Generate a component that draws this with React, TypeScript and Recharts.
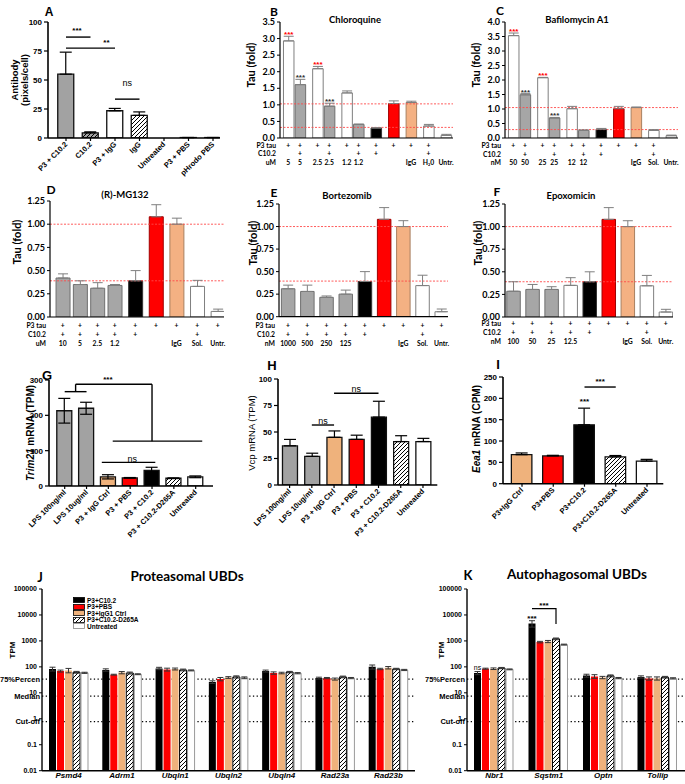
import React from 'react';
import {
  Bar,
  BarChart,
  Cell,
  ErrorBar,
  LabelList,
  Legend,
  ReferenceDot,
  ReferenceLine,
  XAxis,
  YAxis,
} from 'recharts';

// Figure panels A-K. Excel-style panels (B-F) use a Calibri-like face,
// Prism-style panels (A, G-K) use Arial-like bold.
const XL = 'Lato, "Open Sans", sans-serif';
const GP = '"Liberation Sans", Arial, sans-serif';

// ---------- A ----------
const A_LABELS = ['P3 + C10.2', 'C10.2', 'P3 + IgG', 'IgG', 'Untreated', 'P3 + PBS', 'pHrodo PBS'];
const A_VALUES = [55, 4.5, 23.5, 19.5, 0, 0.4, 0.4];
const A_ERR = [19, 0.8, 2, 3, 0, 0, 0];
const A_KIND = ['gray', 'grayHatch', 'white', 'whiteHatch', 'white', 'white', 'white'];
const A_TICKS = [0, 25, 50, 75, 100];
const A_LINES = [[0, 87, 1, 87], [0, 77.5, 2, 77.5], [2, 33.5, 3, 33.5]];
const A_NOTES = [
  { x: 0.45, y: 93, t: '***', bold: true },
  { x: 1.65, y: 82.5, t: '**', bold: true },
  { x: 2.5, y: 48, t: 'ns', bold: false },
];

// ---------- B (Chloroquine) ----------
const B_VALUES = [2.93, 1.61, 2.09, 0.96, 1.36, 0.41, 0.3, 1.04, 1.07, 0.36, 0.08];
const B_ERR = [0.14, 0.16, 0.07, 0.09, 0.06, 0.01, 0.01, 0.08, 0.04, 0.05, 0.03];
const B_KIND = ['white', 'gray', 'white', 'gray', 'white', 'gray', 'black', 'red', 'orange', 'white', 'white'];
const B_GROUPS = [2, 2, 2, 1, 1, 1, 1, 1];
const B_P3 = [1, 1, 1, 1, 1, 1, 1, 1, 1, 1, 0];
const B_C10 = [0, 1, 0, 1, 0, 1, 1, 0, 0, 1, 0];
const B_DOSE = ['5', '5', '2.5', '2.5', '1.2', '1.2', '', '', 'IgG', 'H₂0', 'Untr.'];
const B_STARS = ['***', '***', '***', '***', '', '', '', '', '', '', ''];
const B_STAR_COLOR = ['#ff0000', '#333', '#ff0000', '#333', '', '', '', '', '', '', ''];
const B_REFS = [1.03, 0.32];
const B_TICKS = [0, 0.5, 1, 1.5, 2, 2.5, 3, 3.5];

// ---------- C (Bafilomycin A1) ----------
const C_VALUES = [3.53, 1.49, 2.08, 0.69, 1.01, 0.26, 0.3, 1.01, 1.05, 0.26, 0.08];
const C_ERR = [0.09, 0.04, 0.01, 0.02, 0.08, 0.02, 0.03, 0.08, 0.02, 0.03, 0.02];
const C_DOSE = ['50', '50', '25', '25', '12', '12', '', '', 'IgG', 'Sol.', 'Untr.'];
const C_REFS = [1.05, 0.29];
const C_TICKS = [0, 0.5, 1, 1.5, 2, 2.5, 3, 3.5, 4];

// ---------- D, E, F (proteasome inhibitors) ----------
const PI_TICKS = [0, 0.25, 0.5, 0.75, 1, 1.25];
const PI_P3 = [1, 1, 1, 1, 1, 1, 1, 1, 1];
const PI_C10 = [1, 1, 1, 1, 1, 0, 0, 1, 0];
const D_VALUES = [0.42, 0.35, 0.31, 0.34, 0.39, 1.08, 1.0, 0.33, 0.06];
const D_ERR = [0.045, 0.04, 0.06, 0.01, 0.11, 0.13, 0.065, 0.065, 0.025];
const D_KIND = ['gray', 'gray', 'gray', 'gray', 'black', 'red', 'orange', 'white', 'white'];
const D_GROUPS = [4, 1, 1, 1, 1, 1];
const D_DOSE = ['10', '5', '2.5', '1.2', '', '', 'IgG', 'Sol.', 'Untr.'];
const D_REFS = [1.0, 0.39];
const E_VALUES = [0.31, 0.28, 0.215, 0.25, 0.39, 1.08, 1.0, 0.345, 0.055];
const E_ERR = [0.04, 0.07, 0.015, 0.045, 0.11, 0.13, 0.065, 0.115, 0.03];
const E_KIND = ['gray', 'gray', 'gray', 'gray', 'black', 'red', 'orange', 'white', 'white'];
const E_DOSE = ['1000', '500', '250', '125', '', '', 'IgG', 'Sol.', 'Untr.'];
const E_REFS = [1.0, 0.395];
const F_VALUES = [0.285, 0.305, 0.305, 0.35, 0.39, 1.08, 1.0, 0.345, 0.055];
const F_ERR = [0.105, 0.055, 0.03, 0.085, 0.11, 0.13, 0.065, 0.115, 0.03];
const F_KIND = ['gray', 'gray', 'gray', 'white', 'black', 'red', 'orange', 'white', 'white'];
const F_DOSE = ['100', '50', '25', '12.5', '', '', 'IgG', 'Sol.', 'Untr.'];
const F_REFS = [1.0, 0.39];

// ---------- G, H, I (transcripts) ----------
const GH_LABELS = ['LPS 100ng/ml', 'LPS 10ug/ml', 'P3 + IgG Ctrl', 'P3 + PBS', 'P3 + C10.2', 'P3 + C10.2-D265A', 'Untreated'];
const GH_KIND = ['gray', 'gray', 'orange', 'red', 'black', 'whiteHatch', 'white'];
const G_VALUES = [213, 220, 26, 23, 44, 22, 26];
const G_ERR = [35, 17, 6, 1, 9, 1, 2.5];
const G_TICKS = [0, 100, 200, 300];
const G_LINES = [
  [0, 267, 1, 267], [0.5, 267, 0.5, 288], [0.5, 288, 4, 288], [4, 288, 4, 127],
  [2.2, 127, 6.3, 127], [1.7, 67, 4.15, 67],
];
const G_NOTES = [{ x: 1.98, y: 301, t: '***', bold: true }, { x: 3.1, y: 78, t: 'ns', bold: false }];
const H_VALUES = [37, 27, 45, 43, 64, 41, 41];
const H_ERR = [6, 3, 6, 4, 15, 5.5, 3];
const H_TICKS = [0, 25, 50, 75, 100];
const H_LINES = [[1, 56.6, 2, 56.6], [2, 86.5, 4, 86.5]];
const H_NOTES = [{ x: 1.5, y: 61, t: 'ns', bold: false }, { x: 3, y: 91, t: 'ns', bold: false }];
const I_LABELS = ['P3+IgG Ctrl', 'P3+PBS', 'P3+C10.2', 'P3+C10.2-D265A', 'Untreated'];
const I_KIND = ['orange', 'red', 'black', 'whiteHatch', 'white'];
const I_VALUES = [68, 65, 138, 63, 53];
const I_ERR = [4, 1.5, 39, 3, 4];
const I_TICKS = [0, 50, 100, 150, 200, 250];
const I_LINES = [[2, 226.5, 3, 226.5]];
const I_NOTES = [{ x: 2, y: 194, t: '***', bold: true }, { x: 2.5, y: 241, t: '***', bold: true }];

// ---------- J, K (UBD transcripts, TPM, log) ----------
const UBD_SERIES = ['P3+C10.2', 'P3+PBS', 'P3+IgG1 Ctrl', 'P3+C10.2-D265A', 'Untreated'];
const UBD_KIND = ['black', 'red', 'orange', 'whiteHatch', 'white'];
const UBD_TICKS = [0.01, 0.1, 1, 10, 100, 1000, 10000, 100000];
const UBD_REFS = [34, 7.5, 0.78];
const UBD_REF_LABELS = ['75%Percen', 'Median', 'Cut-off'];
const J_GENES = ['Psmd4', 'Adrm1', 'Ubqln1', 'Ubqln2', 'Ubqln4', 'Rad23a', 'Rad23b'];
const J_C102 = [83, 76, 87, 26, 69, 37, 100];
const J_PBS = [69, 50, 79, 34, 58, 37, 83];
const J_IGG = [73, 60, 83, 39, 58, 34, 93];
const J_D265A = [62, 58, 76, 41, 63, 41, 83];
const J_UNTR = [59, 52, 73, 38, 57, 37, 76];
const J_ERR_C102 = [14, 8, 9, 3, 6, 3, 18];
const J_ERR_PBS = [6, 2, 10, 5, 6, 2, 5];
const J_ERR_IGG = [14, 6, 7, 3, 4, 3, 10];
const J_ERR_D265A = [5, 5, 6, 4, 4, 3, 5];
const J_ERR_UNTR = [3, 2, 3, 3, 3, 2, 4];
const K_GENES = ['Nbr1', 'Sqstm1', 'Optn', 'Tollip'];
const K_C102 = [58, 4700, 46, 41];
const K_PBS = [85, 900, 43, 36];
const K_IGG = [85, 950, 39, 36];
const K_D265A = [90, 1200, 45, 40];
const K_UNTR = [80, 720, 37, 36];
const K_ERR_C102 = [8, 1300, 6, 4];
const K_ERR_PBS = [4, 60, 7, 5];
const K_ERR_IGG = [6, 90, 4, 5];
const K_ERR_D265A = [5, 90, 4, 3];
const K_ERR_UNTR = [3, 30, 2, 2];
const K_NOTES = ['ns', '***', '', ''];
const K_BRACKET = [17400, 4500]; // Sqstm1: C10.2 vs D265A

const KIND_XL: Record<string, { fill: string; stroke: string }> = {
  white: { fill: '#ffffff', stroke: '#7f7f7f' },
  gray: { fill: '#a6a6a6', stroke: '#6f6f6f' },
  black: { fill: '#000000', stroke: '#333333' },
  red: { fill: '#ff0000', stroke: '#a00000' },
  orange: { fill: '#f4b183', stroke: '#a88060' },
};
const KIND_GP: Record<string, { fill: string; stroke: string }> = {
  gray: { fill: '#a2a2a2', stroke: '#111' },
  grayHatch: { fill: 'url(#hatchG)', stroke: '#111' },
  white: { fill: '#ffffff', stroke: '#111' },
  whiteHatch: { fill: 'url(#hatchW)', stroke: '#111' },
  orange: { fill: '#efb27c', stroke: '#111' },
  red: { fill: '#ff0000', stroke: '#111' },
  black: { fill: '#000000', stroke: '#111' },
};

function frame(rect: number[], yw: number, xh: number, mt: number, mr: number) {
  const [l, t, r, b] = rect;
  return {
    style: { position: 'absolute' as const, left: l - yw, top: t - mt },
    width: r - l + yw + mr,
    height: b - t + mt + xh,
    margin: { top: mt, right: mr, left: 0, bottom: 0 },
  };
}

function groupPos(groups: number[], gap: number) {
  const out: number[] = [];
  let p = 0;
  groups.forEach((n, gi) => {
    if (gi) p += gap - 1;
    for (let k = 0; k < n; k++) {
      out.push(p);
      p += 1;
    }
  });
  return out;
}

const findIdx = (pos: number[], v: number) => pos.findIndex((q) => Math.abs(q - v) < 1e-6);
const box = (lp: any) => lp.viewBox && lp.viewBox.width !== undefined ? lp.viewBox : lp;

type ExcelProps = {
  rect: number[]; firstX: number; unit: number; groups: number[]; gap: number; barSize: number;
  values: number[]; err: number[]; kinds: string[]; ticks: number[]; digits: number; refs: number[];
  p3: number[]; c10: number[]; dose: string[]; doseUnit: string; rowsY: number[];
  stars?: string[]; starColor?: string[];
};

function ExcelPanel(p: ExcelProps) {
  const [l, t, r, b] = p.rect;
  const yw = 30;
  const mt = 8;
  const f = frame(p.rect, yw, 36, mt, 4);
  const pos = groupPos(p.groups, p.gap);
  const rows = p.values.map((v, i) => ({ pos: pos[i], v, e: [0, p.err[i]] }));
  const bottom = mt + (b - t);
  const txt = { fontFamily: XL, fontSize: 6.8, fontWeight: 700, fill: '#000' };
  const tick = (tp: any) => {
    const i = findIdx(pos, tp.payload.value);
    const x = tp.x;
    const ys = p.rowsY.map((d) => bottom + d);
    return (
      <g>
        {i === 0 &&
          ['P3 tau', 'C10.2', p.doseUnit].map((s, k) => (
            <text key={s} x={yw - 4} y={ys[k]} dy="0.35em" textAnchor="end" {...txt}>{s}</text>
          ))}
        {p.p3[i] ? <text x={x} y={ys[0]} dy="0.35em" textAnchor="middle" {...txt}>+</text> : null}
        {p.c10[i] ? <text x={x} y={ys[1]} dy="0.35em" textAnchor="middle" {...txt}>+</text> : null}
        {p.dose[i] ? <text x={x} y={ys[2]} dy="0.35em" textAnchor="middle" {...txt}>{p.dose[i]}</text> : null}
      </g>
    );
  };
  const star = (lp: any) => {
    const i = lp.index;
    const s = p.stars ? p.stars[i] : '';
    if (!s) return null;
    const { x, y, width, height } = box(lp);
    const top = y - p.err[i] * (height / p.values[i]);
    return (
      <text x={x + width / 2} y={top + 1} textAnchor="middle" fontFamily={GP} fontSize={8} fontWeight={700} fill={p.starColor ? p.starColor[i] : '#000'}>
        {s}
      </text>
    );
  };
  return (
    <div style={f.style}>
      <BarChart width={f.width} height={f.height} margin={f.margin} data={rows}>
        <XAxis
          type="number"
          dataKey="pos"
          domain={[(l - p.firstX) / p.unit, (r - p.firstX) / p.unit]}
          ticks={pos}
          interval={0}
          tick={tick}
          tickLine={false}
          height={36}
          axisLine={{ stroke: '#000', strokeWidth: 1.2 }}
          allowDataOverflow
        />
        <YAxis
          type="number"
          domain={[0, p.ticks[p.ticks.length - 1]]}
          ticks={p.ticks}
          interval={0}
          width={yw}
          tickSize={3}
          tickFormatter={(v: number) => v.toFixed(p.digits)}
          tick={{ fontFamily: XL, fontSize: 9, fontWeight: 700, fill: '#000' }}
          axisLine={{ stroke: '#000', strokeWidth: 1.2 }}
          tickLine={{ stroke: '#000' }}
          allowDataOverflow
        />
        {p.refs.map((v) => (
          <ReferenceLine key={v} y={v} stroke="#ff4a4a" strokeWidth={0.9} strokeDasharray="2 1.5" />
        ))}
        <Bar dataKey="v" barSize={p.barSize} isAnimationActive={false}>
          {rows.map((_, i) => (
            <Cell key={i} fill={KIND_XL[p.kinds[i]].fill} stroke={KIND_XL[p.kinds[i]].stroke} strokeWidth={1} />
          ))}
          <ErrorBar dataKey="e" width={5} stroke="#7f7f7f" strokeWidth={1} />
          {p.stars && <LabelList dataKey="v" content={star} />}
        </Bar>
      </BarChart>
    </div>
  );
}

type Note = { x: number; y: number; t: string; bold: boolean };
type PrismProps = {
  rect: number[]; firstX: number; unit: number; barSize: number; xh: number;
  labels: string[]; values: number[]; err: number[]; both?: boolean; kinds: string[];
  ticks: number[]; lines: number[][]; notes: Note[]; labelSize: number;
};

function PrismPanel(p: PrismProps) {
  const [l, t, r] = p.rect;
  const yw = 30;
  const f = frame(p.rect, yw, p.xh, 12, 4);
  const pos = p.values.map((_, i) => i);
  const rows = p.values.map((v, i) => ({ pos: i, v, e: p.both ? p.err[i] : [0, p.err[i]] }));
  const tick = (tp: any) => {
    const i = findIdx(pos, tp.payload.value);
    const x = tp.x;
    const y = tp.y;
    return (
      <text x={x} y={y} dy="0.35em" textAnchor="end" transform={`rotate(-45 ${x} ${y})`}
        fontFamily={GP} fontSize={p.labelSize} fontWeight={700} fill="#000">
        {p.labels[i]}
      </text>
    );
  };
  return (
    <div style={f.style}>
      <BarChart width={f.width} height={f.height} margin={f.margin} data={rows}>
        <XAxis
          type="number"
          dataKey="pos"
          domain={[(l - p.firstX) / p.unit, (r - p.firstX) / p.unit]}
          ticks={pos}
          interval={0}
          tick={tick}
          tickSize={3}
          height={p.xh}
          axisLine={{ stroke: '#000', strokeWidth: 1.6 }}
          tickLine={{ stroke: '#000', strokeWidth: 1.2 }}
          allowDataOverflow
        />
        <YAxis
          type="number"
          domain={[0, p.ticks[p.ticks.length - 1]]}
          ticks={p.ticks}
          interval={0}
          width={yw}
          tickSize={4}
          tick={{ fontFamily: GP, fontSize: 8, fontWeight: 700, fill: '#000' }}
          axisLine={{ stroke: '#000', strokeWidth: 1.6 }}
          tickLine={{ stroke: '#000', strokeWidth: 1.2 }}
          allowDataOverflow
        />
        {p.lines.map((s, k) => (
          <ReferenceLine key={k} segment={[{ x: s[0], y: s[1] }, { x: s[2], y: s[3] }]} stroke="#000" strokeWidth={1.4} ifOverflow="visible" />
        ))}
        {p.notes.map((n, k) => (
          <ReferenceDot
            key={'n' + k}
            x={n.x}
            y={n.y}
            r={0}
            fill="none"
            stroke="none"
            ifOverflow="visible"
            label={{ value: n.t, position: 'center', fontFamily: GP, fontSize: n.bold ? 8 : 9, fontWeight: n.bold ? 700 : 400, fill: '#000' }}
          />
        ))}
        <Bar dataKey="v" barSize={p.barSize} isAnimationActive={false}>
          {rows.map((_, i) => (
            <Cell key={i} fill={KIND_GP[p.kinds[i]].fill} stroke={KIND_GP[p.kinds[i]].stroke} strokeWidth={1.3} />
          ))}
          <ErrorBar dataKey="e" width={6} stroke="#000" strokeWidth={1.2} />
        </Bar>
      </BarChart>
    </div>
  );
}

type UbdProps = {
  rect: number[]; genes: string[]; series: number[][]; errs: number[][];
  legend?: boolean; notes?: string[]; bracketAt?: number;
};

function UbdPanel(p: UbdProps) {
  const yw = 42;
  const mt = 14;
  const f = frame(p.rect, yw, 13, mt, 2);
  const rows = p.genes.map((g, i) => {
    const o: Record<string, any> = { gene: g };
    p.series.forEach((s, k) => {
      o['s' + k] = s[i];
      o['e' + k] = p.errs[k][i];
    });
    return o;
  });
  const note = (lp: any) => {
    const i = lp.index;
    const s = p.notes ? p.notes[i] : '';
    if (!s) return null;
    const { x, y, width, height } = box(lp);
    const v = p.series[0][i];
    const dec = height / (Math.log10(v) + 2);
    const top = y - (Math.log10(v + p.errs[0][i]) - Math.log10(v)) * dec;
    const ns = s === 'ns';
    return (
      <text x={x + width / 2} y={top - (ns ? 2 : 0)} textAnchor="middle" fontFamily={GP} fontSize={ns ? 7 : 8} fontWeight={ns ? 400 : 700} fill="#000">
        {s}
      </text>
    );
  };
  const bracket = (lp: any) => {
    const i = lp.index;
    if (i !== p.bracketAt) return null;
    const { x, y, width, height } = box(lp);
    const v = p.series[3][i];
    const dec = height / (Math.log10(v) + 2);
    const yAt = (val: number) => y - (Math.log10(val) - Math.log10(v)) * dec;
    const cx = x + width / 2;
    const bx = cx - 3 * (width + 1);
    const yt = yAt(K_BRACKET[0]);
    return (
      <g>
        <path d={`M${bx},${yt}H${cx}V${yAt(K_BRACKET[1])}`} stroke="#000" strokeWidth={1.2} fill="none" />
        <text x={(bx + cx) / 2} y={yt - 1} textAnchor="middle" fontFamily={GP} fontSize={8} fontWeight={700} fill="#000">***</text>
      </g>
    );
  };
  const legend = () => (
    <div style={{ fontFamily: GP, fontSize: 6.5, fontWeight: 700, color: '#000' }}>
      {UBD_SERIES.map((s, k) => (
        <div key={s} style={{ display: 'flex', alignItems: 'center', height: 6.4, whiteSpace: 'nowrap' }}>
          <svg width={12} height={6} style={{ display: 'block' }}>
            <rect x={0.5} y={0.5} width={11} height={5} fill={KIND_GP[UBD_KIND[k]].fill} stroke={k === 4 ? '#888' : '#000'} strokeWidth={0.8} />
          </svg>
          <span style={{ marginLeft: 2 }}>{s}</span>
        </div>
      ))}
    </div>
  );
  return (
    <div style={f.style}>
      <BarChart width={f.width} height={f.height} margin={f.margin} data={rows} barCategoryGap={7} barGap={1}>
        <XAxis
          dataKey="gene"
          interval={0}
          tickLine={false}
          tickSize={0}
          height={13}
          tickMargin={2}
          axisLine={{ stroke: '#000', strokeWidth: 1.6 }}
          tick={{ fontFamily: GP, fontSize: 8, fontWeight: 700, fontStyle: 'italic', fill: '#000' }}
        />
        <YAxis
          type="number"
          scale="log"
          domain={[0.01, 100000]}
          ticks={UBD_TICKS}
          interval={0}
          allowDataOverflow
          width={yw}
          tickSize={3}
          tickFormatter={(v: number) => String(v)}
          tick={{ fontFamily: GP, fontSize: 7, fontWeight: 700, fill: '#000' }}
          axisLine={{ stroke: '#000', strokeWidth: 1.4 }}
          tickLine={{ stroke: '#000' }}
        />
        {UBD_REFS.map((v, k) => (
          <ReferenceLine
            key={v}
            y={v}
            stroke="#000"
            strokeWidth={1.3}
            strokeDasharray="1.3 2.4"
            zIndex={-50}
            label={{ value: UBD_REF_LABELS[k], position: 'left', offset: 2, fontFamily: GP, fontSize: 7.5, fontWeight: 700, fill: '#000' }}
          />
        ))}
        {UBD_SERIES.map((name, k) => (
          <Bar
            key={name}
            dataKey={'s' + k}
            fill={KIND_GP[UBD_KIND[k]].fill}
            stroke={k === 4 ? '#9a9a9a' : k === 3 ? '#000' : 'none'}
            strokeWidth={1}
            isAnimationActive={false}
          >
            <ErrorBar dataKey={'e' + k} width={3} stroke="#333" strokeWidth={1} />
            {k === 0 && p.notes ? <LabelList dataKey={'s0'} content={note} /> : null}
            {k === 3 && p.bracketAt !== undefined ? <LabelList dataKey={'s3'} content={bracket} /> : null}
          </Bar>
        ))}
        {p.legend ? (
          <Legend layout="vertical" align="center" verticalAlign="middle" wrapperStyle={{ left: 73, top: 22, width: 90, height: 34 }} content={legend} />
        ) : null}
      </BarChart>
    </div>
  );
}

function T(props: { x: number; y: number; s: number; f?: string; w?: number; rot?: boolean; children: React.ReactNode }) {
  return (
    <div
      style={{
        position: 'absolute',
        left: props.x,
        top: props.y,
        transform: `translate(-50%, -50%)${props.rot ? ' rotate(-90deg)' : ''}`,
        fontSize: props.s,
        fontFamily: props.f || XL,
        fontWeight: props.w === undefined ? 700 : props.w,
        whiteSpace: 'nowrap',
        lineHeight: 1,
        color: '#000',
      }}
    >
      {props.children}
    </div>
  );
}

export default function App() {
  return (
    <div style={{ position: 'relative', width: 685, height: 784, overflow: 'hidden', background: '#fff' }}>
      <style>{'body{margin:0}'}</style>
      <svg width={0} height={0} style={{ position: 'absolute' }}>
        <defs>
          <pattern id="hatchW" patternUnits="userSpaceOnUse" width={4} height={4}>
            <rect width={4} height={4} fill="#fff" />
            <path d="M-1,1 l2,-2 M0,4 l4,-4 M3,5 l2,-2" stroke="#000" strokeWidth={1} />
          </pattern>
          <pattern id="hatchG" patternUnits="userSpaceOnUse" width={4} height={4}>
            <rect width={4} height={4} fill="#a2a2a2" />
            <path d="M-1,1 l2,-2 M0,4 l4,-4 M3,5 l2,-2" stroke="#000" strokeWidth={1} />
          </pattern>
        </defs>
      </svg>

      <PrismPanel rect={[48, 22, 220, 138]} firstX={66} unit={24.5} barSize={16} xh={50}
        labels={A_LABELS} values={A_VALUES} err={A_ERR} kinds={A_KIND} ticks={A_TICKS}
        lines={A_LINES} notes={A_NOTES} labelSize={7.5} />
      <ExcelPanel rect={[280, 21.7, 453, 137.7]} firstX={288.3} unit={11.68} groups={B_GROUPS} gap={1.5} barSize={12}
        values={B_VALUES} err={B_ERR} kinds={B_KIND} ticks={B_TICKS} digits={1} refs={B_REFS}
        p3={B_P3} c10={B_C10} dose={B_DOSE} doseUnit="uM" rowsY={[8, 16, 25]} stars={B_STARS} starColor={B_STAR_COLOR} />
      <ExcelPanel rect={[505, 21.7, 678, 137.7]} firstX={513.3} unit={11.68} groups={B_GROUPS} gap={1.5} barSize={12}
        values={C_VALUES} err={C_ERR} kinds={B_KIND} ticks={C_TICKS} digits={1} refs={C_REFS}
        p3={B_P3} c10={B_C10} dose={C_DOSE} doseUnit="nM" rowsY={[8, 16.3, 25]} stars={B_STARS} starColor={B_STAR_COLOR} />
      <ExcelPanel rect={[50, 200.7, 224, 316.7]} firstX={62.7} unit={17.33} groups={D_GROUPS} gap={1.19} barSize={14}
        values={D_VALUES} err={D_ERR} kinds={D_KIND} ticks={PI_TICKS} digits={2} refs={D_REFS}
        p3={PI_P3} c10={PI_C10} dose={D_DOSE} doseUnit="uM" rowsY={[9, 17.6, 26.6]} />
      <ExcelPanel rect={[279.3, 204, 448.3, 316.7]} firstX={288.3} unit={19.2} groups={[9]} gap={1} barSize={13.5}
        values={E_VALUES} err={E_ERR} kinds={E_KIND} ticks={PI_TICKS} digits={2} refs={E_REFS}
        p3={PI_P3} c10={PI_C10} dose={E_DOSE} doseUnit="nM" rowsY={[9.3, 17.6, 26.6]} />
      <ExcelPanel rect={[505, 204, 673, 317]} firstX={513.3} unit={19.05} groups={[9]} gap={1} barSize={13.5}
        values={F_VALUES} err={F_ERR} kinds={F_KIND} ticks={PI_TICKS} digits={2} refs={F_REFS}
        p3={PI_P3} c10={PI_C10} dose={F_DOSE} doseUnit="nM" rowsY={[7, 15.7, 24.3]} />

      <PrismPanel rect={[49.3, 380, 213.3, 486]} firstX={65} unit={21.83} barSize={15} xh={66}
        labels={GH_LABELS} values={G_VALUES} err={G_ERR} both kinds={GH_KIND} ticks={G_TICKS}
        lines={G_LINES} notes={G_NOTES} labelSize={7.5} />
      <PrismPanel rect={[277.7, 379, 437, 485]} firstX={289.3} unit={22.23} barSize={15} xh={66}
        labels={GH_LABELS} values={H_VALUES} err={H_ERR} kinds={GH_KIND} ticks={H_TICKS}
        lines={H_LINES} notes={H_NOTES} labelSize={7.5} />
      <PrismPanel rect={[502.7, 377.3, 663, 484]} firstX={521.7} unit={31.25} barSize={20.5} xh={66}
        labels={I_LABELS} values={I_VALUES} err={I_ERR} kinds={I_KIND} ticks={I_TICKS}
        lines={I_LINES} notes={I_NOTES} labelSize={7.5} />

      <UbdPanel rect={[42, 589.3, 415, 771]} genes={J_GENES}
        series={[J_C102, J_PBS, J_IGG, J_D265A, J_UNTR]}
        errs={[J_ERR_C102, J_ERR_PBS, J_ERR_IGG, J_ERR_D265A, J_ERR_UNTR]} legend />
      <UbdPanel rect={[467, 589.3, 685, 771]} genes={K_GENES}
        series={[K_C102, K_PBS, K_IGG, K_D265A, K_UNTR]}
        errs={[K_ERR_C102, K_ERR_PBS, K_ERR_IGG, K_ERR_D265A, K_ERR_UNTR]} notes={K_NOTES} bracketAt={1} />

      {/* panel letters */}
      <T x={49} y={12} s={12} f={GP}>A</T>
      <T x={274} y={12} s={12}>B</T>
      <T x={500} y={11} s={12}>C</T>
      <T x={51} y={190} s={12}>D</T>
      <T x={274} y={193} s={12}>E</T>
      <T x={497} y={192} s={12}>F</T>
      <T x={47} y={375} s={13} f={GP}>G</T>
      <T x={272} y={365} s={13} f={GP}>H</T>
      <T x={498} y={364} s={13} f={GP}>I</T>
      <T x={40} y={577} s={13}>J</T>
      <T x={468} y={575} s={13}>K</T>

      {/* titles */}
      <T x={355} y={20} s={9.5}>Chloroquine</T>
      <T x={577} y={20} s={9.5}>Bafilomycin A1</T>
      <T x={125} y={195} s={9.5}>(R)-MG132</T>
      <T x={347} y={196} s={9.5}>Bortezomib</T>
      <T x={571} y={196} s={9.5}>Epoxomicin</T>
      <T x={187} y={577} s={13.5}>Proteasomal UBDs</T>
      <T x={577} y={575} s={13.5}>Autophagosomal UBDs</T>

      {/* axis titles */}
      <T x={15} y={80} s={9.5} f={GP} rot>Antibody</T>
      <T x={25} y={80} s={9.5} f={GP} rot>(pixels/cell)</T>
      <T x={249.5} y={65} s={11} rot>Tau (fold)</T>
      <T x={475} y={65} s={11} rot>Tau (fold)</T>
      <T x={16} y={242} s={11} rot>Tau (fold)</T>
      <T x={251.7} y={242.5} s={11} rot>Tau (fold)</T>
      <T x={476.7} y={242.5} s={11} rot>Tau (fold)</T>
      <T x={31} y={433} s={10} f={GP} rot><i>Trim21</i> mRNA (TPM)</T>
      <T x={251.7} y={433} s={9.5} f={GP} w={400} rot>Vcp mRNA (TPM)</T>
      <T x={476.7} y={429} s={10} f={GP} rot><i>Eea1</i> mRNA (CPM)</T>
      <T x={13} y={650} s={8} f={GP} rot>TPM</T>
      <T x={442} y={650} s={8} f={GP} rot>TPM</T>
    </div>
  );
}
